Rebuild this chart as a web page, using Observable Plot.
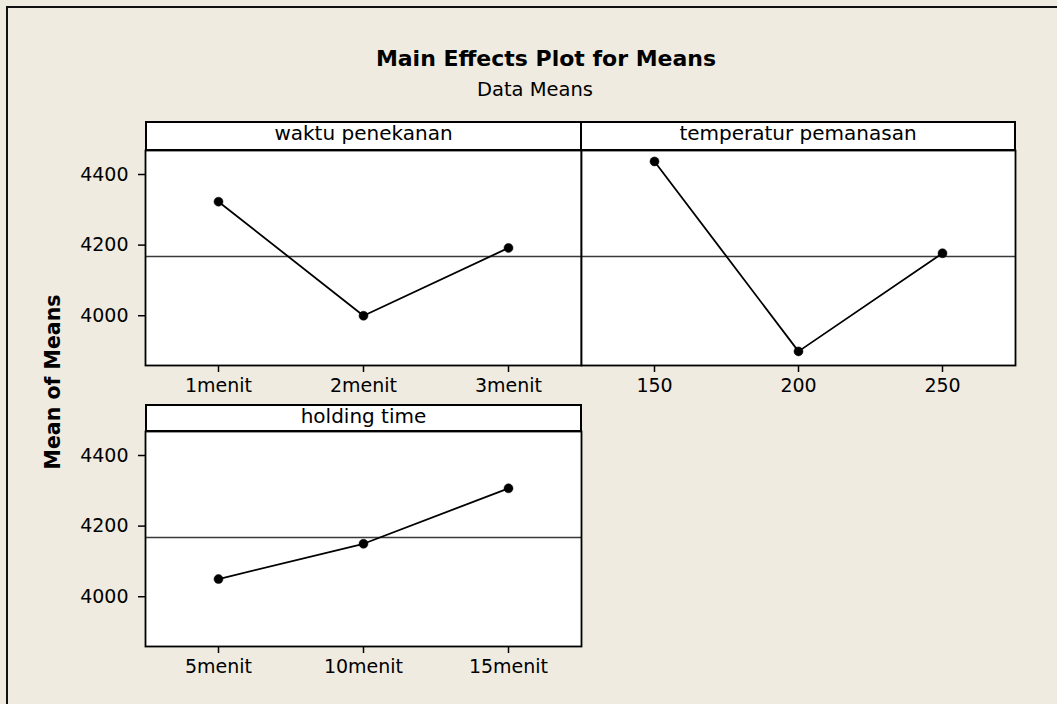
<!DOCTYPE html>
<html>
<head>
<meta charset="utf-8">
<script src="https://cdn.jsdelivr.net/npm/d3@7"></script>
<script src="https://cdn.jsdelivr.net/npm/@observablehq/plot@0.6"></script>
<style>
  html, body { margin: 0; padding: 0; overflow: hidden; }
  body { width: 1057px; height: 704px; background: #EFEBE0; font-family: "DejaVu Sans", Verdana, sans-serif; position: relative; }
  .abs { position: absolute; }
  .frame-outer { left: 6px; top: 6px; width: 1200px; height: 1000px; border: 2px solid #111; box-sizing: border-box; }
  .title { font-weight: bold; font-size: 22px; line-height: 1; white-space: nowrap; transform: translateX(-50%); color: #000; }
  .subtitle { font-size: 19.5px; line-height: 1; white-space: nowrap; transform: translateX(-50%); color: #000; }
  .strip { background: #fff; border: 2px solid #000; box-sizing: border-box; text-align: center; font-size: 20px; line-height: 21px; color: #000; white-space: nowrap; }
  .ylab { font-weight: bold; font-size: 20.5px; line-height: 1; white-space: nowrap; transform: translate(-50%, -50%) rotate(-90deg); color: #000; }
</style>
</head>
<body>
<div class="abs frame-outer"></div>
<script>
// ---- Data ----
const waktuLevels = ["1menit", "2menit", "3menit"];
const waktuMeans = [4323, 4000, 4192];
const tempLevels = ["150", "200", "250"];
const tempMeans = [4437, 3899, 4177];
const holdLevels = ["5menit", "10menit", "15menit"];
const holdMeans = [4050, 4150, 4307];
const grandMean = 4168;
const yTicks = [4000, 4200, 4400];
const yDomain = [3859, 4468];

const titleText = "Main Effects Plot for Means";
const subtitleText = "Data Means";
const yLabelText = "Mean of Means";
const factorNames = ["waktu penekanan", "temperatur pemanasan", "holding time"];

function addDiv(cls, text, css) {
  const d = document.createElement("div");
  d.className = "abs " + cls;
  if (text != null) d.textContent = text;
  Object.assign(d.style, css);
  document.body.appendChild(d);
  return d;
}

function panel(levels, means, showY, plotWidth) {
  const data = levels.map((l, i) => ({level: l, mean: means[i]}));
  const mL = showY ? 85 : 1;
  return Plot.plot({
    width: mL + plotWidth + 1,
    height: 1 + 215 + 40,
    marginTop: 1,
    marginBottom: 40,
    marginLeft: mL,
    marginRight: 1,
    style: {background: "transparent", fontFamily: "DejaVu Sans, Verdana, sans-serif", fontSize: "19px", color: "black", overflow: "visible"},
    x: {type: "point", domain: levels, padding: 0.5, label: null},
    y: showY ? {domain: yDomain, label: null} : {domain: yDomain, label: null, axis: null},
    marks: [
      Plot.frame({fill: "white", stroke: null}),
      Plot.ruleY([grandMean], {stroke: "#3a3a3a", strokeWidth: 1.5}),
      Plot.line(data, {x: "level", y: "mean", stroke: "black", strokeWidth: 1.8}),
      Plot.dot(data, {x: "level", y: "mean", r: 4.5, fill: "black", stroke: "black", strokeWidth: 0.5}),
      Plot.axisX({tickSize: 7, tickPadding: 6, fontSize: 19, label: null, strokeWidth: 1.5}),
      showY ? Plot.axisY({ticks: yTicks, tickFormat: "d", tickSize: 7, tickPadding: 10, fontSize: 19, label: null, strokeWidth: 1.5}) : null,
      Plot.frame({stroke: "black", strokeWidth: 1.8})
    ]
  });
}

// Titles
addDiv("title", titleText, {left: "546px", top: "47.5px"});
addDiv("subtitle", subtitleText, {left: "535px", top: "79.6px"});
addDiv("ylab", yLabelText, {left: "53px", top: "382px"});

// Panels
const p1 = panel(waktuLevels, waktuMeans, true, 436);
Object.assign(p1.style, {position: "absolute", left: "60px", top: "149px"});
document.body.appendChild(p1);

const p2 = panel(tempLevels, tempMeans, false, 434);
Object.assign(p2.style, {position: "absolute", left: "580px", top: "149px"});
document.body.appendChild(p2);

const p3 = panel(holdLevels, holdMeans, true, 436);
Object.assign(p3.style, {position: "absolute", left: "60px", top: "430px"});
document.body.appendChild(p3);

// Strips
addDiv("strip", factorNames[0], {left: "145px", top: "121px", width: "437px", height: "30px"});
addDiv("strip", factorNames[1], {left: "580px", top: "121px", width: "436px", height: "30px"});
addDiv("strip", factorNames[2], {left: "145px", top: "404px", width: "437px", height: "28px"});
</script>
</body>
</html>
